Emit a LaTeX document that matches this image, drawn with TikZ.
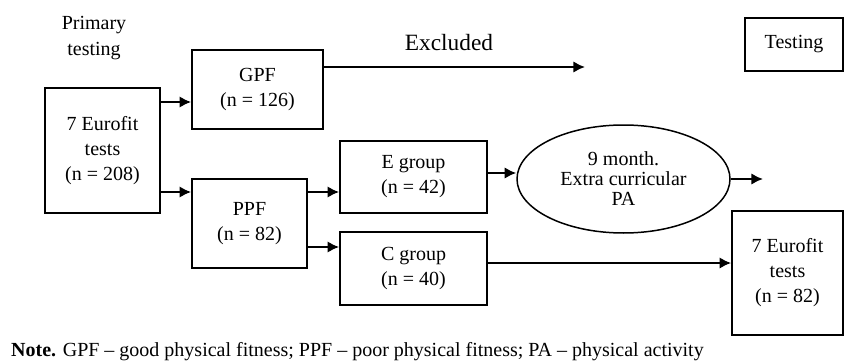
\documentclass[tikz,border=0pt]{standalone}
\usepackage{fontspec}
\setmainfont{Liberation Serif}
\usepackage{tikz}
\usetikzlibrary{shapes.geometric,arrows.meta,positioning}
\tikzset
    {
        bx/.style = {rectangle, draw=black, line width=1pt, align=center, font=\fontsize{12}{15}\selectfont, inner sep=0pt},
        ov/.style = {ellipse, draw=black, line width=0.9pt, align=center, font=\fontsize{12}{12}\selectfont, inner sep=0pt},
        lb/.style = {align=center, font=\fontsize{12}{16}\selectfont, inner sep=0pt}
    }
\begin{document}
\begin{tikzpicture}[->,>={Latex[length=7pt,width=7pt]}, line width=1.4pt,
                    x=0.6pt, y=-0.6pt]
                    \useasboundingbox (0,0) rectangle (849,362);
                    % labels
                    \node [lb] (prim) at (94,38) {Primary\\testing};
                    \node [lb, font=\fontsize{14}{17}\selectfont] (excl) at (449,43) {Excluded};
                    \node [bx, minimum width=58.8pt, minimum height=31.8pt] (test) at (794,44.5) {Testing};
                    % boxes
                    \node [bx, minimum width=69pt, minimum height=75pt] (main) at (102.5,150.5) {7 Eurofit\\tests\\(n = 208)};
                    \node [bx, minimum width=78.6pt, minimum height=47.4pt] (gpf) at (257.5,89.5) {GPF\\(n = 126)};
                    \node [bx, minimum width=69pt, minimum height=53.4pt] (ppf) at (249.5,223.5) {PPF\\(n = 82)};
                    \node [bx, minimum width=88.2pt, minimum height=43.5pt] (egr) at (413.5,177) {E group\\(n = 42)};
                    \node [bx, minimum width=88.2pt, minimum height=43.5pt] (cgr) at (413.5,268.5) {C group\\(n = 40)};
                    \node [ov, minimum width=127.8pt, minimum height=64.8pt] (pa) at (623.5,179) {9 month.\\Extra curricular\\PA};
                    \node [bx, minimum width=66.6pt, minimum height=74.4pt] (fin) at (787.5,273) {7 Eurofit\\tests\\(n = 82)};
                    \node [anchor=west, inner sep=0pt, font=\fontsize{12}{14}\selectfont] (note) at (10,352)
                        {\textbf{Note.} GPF -- good physical fitness; PPF -- poor physical fitness; PA -- physical activity};
                    % arrows
                    \coordinate (m1) at ([yshift=29.1pt]main.east);
                    \coordinate (m2) at ([yshift=-24.9pt]main.east);
                    \coordinate (p1) at ([yshift=18.9pt]ppf.east);
                    \coordinate (p2) at ([yshift=-14.1pt]ppf.east);
                    \coordinate (g1) at ([yshift=13.5pt]gpf.east);
                    \coordinate (gx) at (585,67);
                    \coordinate (e1) at ([yshift=2.4pt]egr.east);
                    \coordinate (c1) at ([yshift=3.3pt]cgr.east);
                    \coordinate (px) at (763,180);
                    \draw (m1) -- (m1 -| gpf.west);
                    \draw (m2) -- (m2 -| ppf.west);
                    \draw (p1) -- (p1 -| egr.west);
                    \draw (p2) -- (p2 -| cgr.west);
                    \draw (g1) -- (g1 -| gx);
                    \draw (e1) -- (e1 -| pa.west);
                    \draw (pa.east) -- (pa.east -| px);
                    \draw (c1) -- (c1 -| fin.west);
\end{tikzpicture}
\end{document}
